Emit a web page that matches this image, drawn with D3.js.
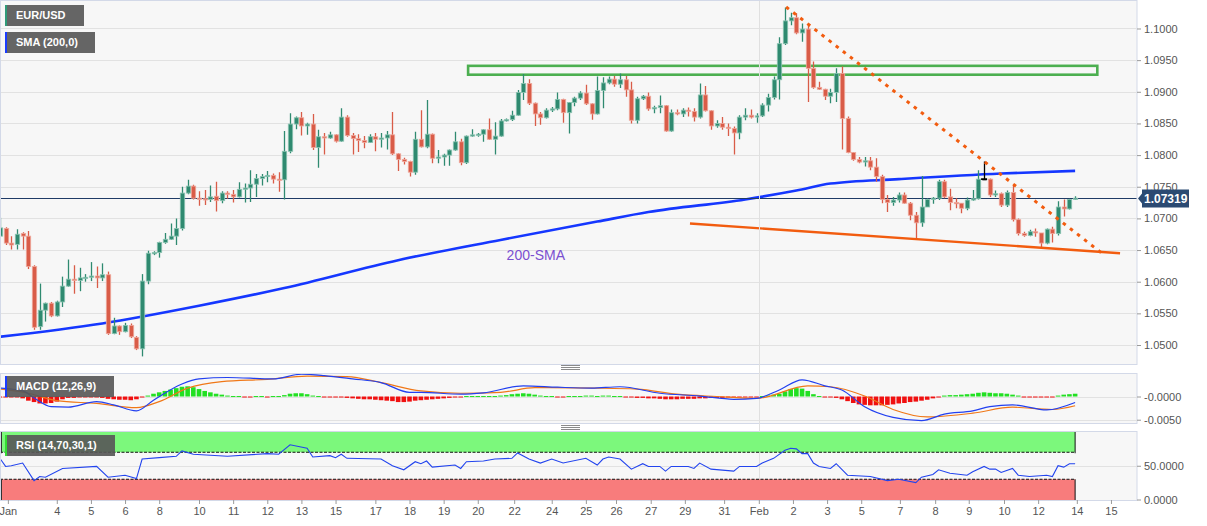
<!DOCTYPE html>
<html><head><meta charset="utf-8">
<script src="https://cdn.jsdelivr.net/npm/d3@7"></script>
<style>
body{margin:0;background:#fff;}
svg{display:block;font-family:"Liberation Sans",Arial,sans-serif;}
</style>
</head><body>
<svg id="c" width="1207" height="526"></svg>
<script>
// ---------- DATA (4H EUR/USD candles) ----------
const opens = [1.0672,1.0684,1.0661,1.0659,1.0676,1.0672,1.0624,1.0529,1.0555,1.0566,1.0546,1.0568,1.0593,1.0604,1.0602,1.0606,1.0607,1.0609,1.0606,1.0611,
1.0518,1.0530,1.0521,1.0531,1.0512,1.0494,1.0601,1.0645,1.0646,1.0662,1.0667,1.0672,1.0684,1.0740,1.0751,1.0732,1.0731,1.0730,1.0735,1.0728,
1.0740,1.0738,1.0734,1.0746,1.0748,1.0754,1.0763,1.0766,1.0768,1.0762,1.0761,1.0806,1.0849,1.0859,1.0846,1.0849,1.0812,1.0829,1.0827,1.0832,
1.0822,1.0860,1.0831,1.0826,1.0823,1.0820,1.0829,1.0825,1.0827,1.0832,1.0802,1.0793,1.0790,1.0773,1.0825,1.0813,1.0833,1.0795,1.0797,1.0800,
1.0808,1.0821,1.0788,1.0830,1.0832,1.0833,1.0840,1.0825,1.0830,1.0854,1.0856,1.0863,1.0899,1.0913,1.0882,1.0865,1.0859,1.0871,1.0873,1.0888,
1.0867,1.0883,1.0890,1.0898,1.0881,1.0865,1.0902,1.0914,1.0920,1.0912,1.0919,1.0903,1.0855,1.0889,1.0893,1.0873,1.0875,1.0878,1.0838,1.0867,
1.0865,1.0871,1.0869,1.0860,1.0895,1.0870,1.0846,1.0850,1.0844,1.0842,1.0835,1.0860,1.0863,1.0860,1.0862,1.0879,1.0891,1.0919,1.0976,1.1012,
1.1017,1.0993,1.0999,1.0937,1.0907,1.0904,1.0893,1.0899,1.0929,1.0858,1.0804,1.0793,1.0789,1.0791,1.0781,1.0766,1.0730,1.0725,1.0729,1.0737,
1.0724,1.0705,1.0693,1.0718,1.0730,1.0732,1.0758,1.0734,1.0725,1.0724,1.0716,1.0729,1.0731,1.0762,1.0762,1.0737,1.0739,1.0721,1.0741,1.0698,
1.0676,1.0673,1.0679,1.0677,1.0661,1.0683,1.0676,1.0718,1.0715,1.0730];
const highs = [1.0701,1.0686,1.0672,1.0683,1.0678,1.0680,1.0626,1.0597,1.0567,1.0568,1.0570,1.0608,1.0635,1.0626,1.0622,1.0612,1.0631,1.0624,1.0629,1.0616,
1.0543,1.0531,1.0535,1.0534,1.0514,1.0612,1.0649,1.0648,1.0663,1.0677,1.0692,1.0700,1.0750,1.0761,1.0753,1.0743,1.0745,1.0752,1.0758,1.0743,
1.0743,1.0745,1.0757,1.0755,1.0776,1.0770,1.0770,1.0775,1.0771,1.0773,1.0838,1.0866,1.0861,1.0868,1.0851,1.0865,1.0840,1.0835,1.0837,1.0833,
1.0874,1.0863,1.0835,1.0833,1.0830,1.0833,1.0835,1.0835,1.0838,1.0868,1.0803,1.0796,1.0791,1.0837,1.0871,1.0887,1.0834,1.0808,1.0802,1.0809,
1.0837,1.0826,1.0831,1.0841,1.0835,1.0841,1.0858,1.0852,1.0857,1.0858,1.0870,1.0903,1.0928,1.0920,1.0883,1.0868,1.0874,1.0876,1.0899,1.0889,
1.0884,1.0892,1.0901,1.0911,1.0882,1.0924,1.0923,1.0924,1.0925,1.0929,1.0925,1.0916,1.0892,1.0895,1.0899,1.0878,1.0894,1.0879,1.0872,1.0872,
1.0874,1.0875,1.0874,1.0913,1.0909,1.0871,1.0855,1.0860,1.0850,1.0845,1.0863,1.0874,1.0872,1.0866,1.0882,1.0897,1.0924,1.0986,1.1033,1.1025,
1.1024,1.1008,1.1005,1.0948,1.0916,1.0905,1.0905,1.0937,1.0940,1.0861,1.0805,1.0797,1.0797,1.0797,1.0795,1.0769,1.0737,1.0734,1.0741,1.0741,
1.0726,1.0710,1.0767,1.0732,1.0734,1.0761,1.0761,1.0747,1.0732,1.0724,1.0733,1.0745,1.0776,1.0790,1.0763,1.0744,1.0741,1.0744,1.0752,1.0700,
1.0679,1.0682,1.0684,1.0677,1.0684,1.0687,1.0727,1.0730,1.0731,1.0735];
const lows = [1.0671,1.0658,1.0651,1.0651,1.0651,1.0620,1.0524,1.0524,1.0537,1.0544,1.0545,1.0560,1.0592,1.0581,1.0585,1.0600,1.0601,1.0590,1.0601,1.0516,
1.0517,1.0516,1.0520,1.0511,1.0492,1.0482,1.0596,1.0642,1.0638,1.0660,1.0666,1.0658,1.0681,1.0738,1.0730,1.0720,1.0721,1.0726,1.0711,1.0724,
1.0731,1.0725,1.0733,1.0725,1.0726,1.0734,1.0752,1.0757,1.0755,1.0742,1.0730,1.0803,1.0841,1.0831,1.0832,1.0808,1.0780,1.0801,1.0826,1.0820,
1.0821,1.0829,1.0801,1.0805,1.0811,1.0819,1.0806,1.0812,1.0809,1.0800,1.0775,1.0785,1.0766,1.0769,1.0812,1.0811,1.0787,1.0787,1.0783,1.0783,
1.0807,1.0784,1.0786,1.0829,1.0829,1.0821,1.0824,1.0801,1.0829,1.0853,1.0854,1.0862,1.0887,1.0879,1.0846,1.0848,1.0858,1.0868,1.0871,1.0851,
1.0834,1.0877,1.0887,1.0879,1.0856,1.0864,1.0874,1.0912,1.0908,1.0906,1.0892,1.0850,1.0850,1.0887,1.0870,1.0866,1.0866,1.0837,1.0837,1.0863,
1.0860,1.0861,1.0853,1.0858,1.0869,1.0840,1.0843,1.0840,1.0830,1.0801,1.0825,1.0855,1.0858,1.0851,1.0860,1.0869,1.0888,1.0888,1.0974,1.1005,
1.0991,1.0979,1.0884,1.0905,1.0903,1.0887,1.0882,1.0884,1.0809,1.0803,1.0791,1.0787,1.0782,1.0776,1.0758,1.0724,1.0710,1.0720,1.0725,1.0723,
1.0697,1.0669,1.0687,1.0718,1.0723,1.0729,1.0732,1.0713,1.0716,1.0708,1.0713,1.0728,1.0730,1.0761,1.0734,1.0734,1.0718,1.0718,1.0695,1.0673,
1.0671,1.0672,1.0671,1.0654,1.0659,1.0662,1.0673,1.0703,1.0714,1.0729];
const closes = [1.0685,1.0661,1.0658,1.0675,1.0672,1.0624,1.0528,1.0555,1.0566,1.0546,1.0568,1.0593,1.0604,1.0602,1.0606,1.0607,1.0609,1.0606,1.0611,1.0518,
1.0530,1.0521,1.0531,1.0513,1.0494,1.0601,1.0645,1.0646,1.0662,1.0667,1.0672,1.0684,1.0740,1.0751,1.0732,1.0731,1.0730,1.0734,1.0728,1.0740,
1.0738,1.0734,1.0746,1.0748,1.0754,1.0763,1.0766,1.0768,1.0762,1.0761,1.0806,1.0849,1.0859,1.0846,1.0849,1.0812,1.0829,1.0827,1.0832,1.0822,
1.0860,1.0831,1.0826,1.0823,1.0820,1.0829,1.0825,1.0827,1.0832,1.0802,1.0793,1.0790,1.0773,1.0825,1.0813,1.0833,1.0795,1.0797,1.0800,1.0808,
1.0821,1.0788,1.0830,1.0832,1.0833,1.0840,1.0825,1.0830,1.0854,1.0856,1.0863,1.0899,1.0913,1.0882,1.0865,1.0859,1.0871,1.0873,1.0888,1.0867,
1.0883,1.0890,1.0898,1.0881,1.0865,1.0902,1.0914,1.0920,1.0912,1.0919,1.0903,1.0855,1.0889,1.0893,1.0873,1.0875,1.0878,1.0838,1.0867,1.0865,
1.0871,1.0869,1.0860,1.0895,1.0870,1.0846,1.0850,1.0844,1.0842,1.0835,1.0860,1.0863,1.0860,1.0862,1.0879,1.0891,1.0919,1.0976,1.1012,1.1017,
1.0993,1.0999,1.0937,1.0907,1.0904,1.0893,1.0899,1.0929,1.0858,1.0804,1.0793,1.0789,1.0791,1.0781,1.0766,1.0730,1.0725,1.0729,1.0737,1.0724,
1.0705,1.0693,1.0718,1.0730,1.0732,1.0758,1.0734,1.0725,1.0724,1.0716,1.0729,1.0731,1.0762,1.0762,1.0737,1.0739,1.0721,1.0741,1.0698,1.0676,
1.0673,1.0679,1.0677,1.0661,1.0683,1.0676,1.0718,1.0715,1.0730,1.07319];

// 200-period SMA, read at sample candles
const smaIdx = [0,18,35,50,70,88,105,114,131,140,146,158,176,189];
const smaVal = [1.0513,1.0534,1.0562,1.0590,1.0634,1.0666,1.0695,1.0710,1.0730,1.0744,1.0755,1.0762,1.0771,1.0775];

// MACD (12,26,9)
const macdHist = [-0.0002,-0.0002,-0.0001,-0.0002,
-0.0004,-0.0009,-0.0012,-0.0015,-0.0015,-0.0014,-0.0011,-0.0006,
-0.0003,-0.0003,-0.0002,-0.0002,-0.0001,-0.0001,
-0.0003,-0.0005,-0.0006,-0.0007,-0.0007,-0.0008,-0.0006,
-0.0002,
0.0002,0.0006,0.0009,0.0012,0.0015,0.0018,0.0021,0.0022,0.0020,0.0016,0.0012,0.0009,0.0006,0.0004,0.0002,
0.0001,0.0001,-0.0001,-0.0001,0.0001,0.0001,-0.0001,0.0001,
0.0001,0.0003,0.0006,0.0007,0.0007,0.0005,0.0002,
0.0001,-0.0001,-0.0001,-0.0001,
-0.0002,-0.0003,-0.0004,-0.0005,-0.0006,-0.0006,-0.0007,-0.0008,-0.0009,-0.0010,-0.0012,-0.0012,-0.0011,-0.0009,-0.0008,-0.0007,-0.0006,-0.0005,-0.0004,-0.0003,-0.0002,-0.0001,
0.0001,0.0001,0.0001,0.0001,0.0001,0.0001,
0.0002,0.0003,0.0005,0.0006,0.0007,0.0006,0.0004,0.0002,
0.0001,0.0001,-0.0001,-0.0001,0.0001,0.0001,0.0001,0.0002,0.0002,0.0001,0.0002,0.0002,0.0001,0.0001,-0.0001,
-0.0002,-0.0003,-0.0003,-0.0004,-0.0004,-0.0005,-0.0006,-0.0006,-0.0006,-0.0005,-0.0005,-0.0005,-0.0004,-0.0004,-0.0003,-0.0003,-0.0003,-0.0002,-0.0002,-0.0002,-0.0001,-0.0001,-0.0001,
0.0001,0.0002,0.0004,
0.0006,0.0011,0.0016,0.0018,0.0017,0.0012,0.0005,
0.0001,-0.0001,
-0.0002,-0.0003,-0.0006,-0.0010,-0.0014,-0.0017,-0.0018,-0.0019,-0.0019,-0.0019,-0.0018,-0.0017,-0.0015,-0.0014,-0.0012,-0.0011,-0.0009,-0.0007,-0.0004,-0.0002,
0.0002,0.0003,0.0003,0.0004,0.0005,0.0006,0.0008,0.0009,0.0008,0.0007,0.0007,0.0006,0.0004,0.0002,
-0.0001,-0.0001,-0.0002,-0.0002,-0.0001,-0.0001,
0.0002,0.0004,0.0005,0.0006];
const macdIdx = [0,4,6,9,12,17,20,24,27,32,35,40,48,53,57,62,67,72,74,81,85,92,98,104,109,116,123,129,133,137,141,145,148,152,157,162,166,171,174,178,184,189];
const macdVal = [0.0018,0.0012,-0.0003,-0.0022,-0.0023,-0.0011,-0.0018,-0.0031,-0.0008,0.0027,0.0038,0.0041,0.0038,0.0048,0.0045,0.0038,0.0030,0.0009,0.0009,0.0005,0.0008,0.0023,0.0020,0.0018,0.0021,0.0007,0.0001,-0.0006,-0.0004,0.0014,0.0036,0.0023,0.0014,-0.0022,-0.0045,-0.0052,-0.0038,-0.0031,-0.0022,-0.0018,-0.0029,-0.0013];
const signalIdx = [0,5,10,17,24,28,33,39,47,54,61,67,74,81,88,94,105,112,119,126,133,142,146,152,157,163,171,178,185,189];
const signalVal = [0.0016,0.0007,-0.0009,-0.0015,-0.0024,-0.0011,0.0018,0.0032,0.0037,0.0044,0.0043,0.0030,0.0012,0.0007,0.0009,0.0019,0.0018,0.0016,0.0005,0.0000,-0.0004,0.0023,0.0021,0.0001,-0.0028,-0.0044,-0.0036,-0.0023,-0.0028,-0.0020];

// RSI (14)
const rsiIdx = [0,1,2,4,6,7,8,11,17,19,22,24,25,28,31,32,34,40,47,49,51,54,55,58,59,60,61,67,69,71,73,74,75,76,80,81,82,85,87,90,91,93,95,97,99,103,105,106,107,109,111,113,114,116,117,118,121,122,123,125,129,130,133,134,136,138,139,140,141,142,143,144,146,147,149,153,156,158,161,162,164,165,167,170,171,173,174,175,176,178,179,181,184,185,186,187,188,189];
const rsiVal = [61,49,50,54,28,34,33,46,49,33,36,31,60,62,64,72,67,64,68,67,81,76,63,65,62,67,61,60,50,44,56,53,57,48,51,46,56,57,60,61,69,60,54,60,54,61,51,60,63,60,45,53,49,49,42,49,49,46,54,45,42,49,49,54,61,73,76,75,68,68,54,49,46,53,36,34,28,30,25,33,37,44,39,36,41,49,45,45,40,46,36,34,36,34,50,48,53,53];

// Annotations
const resistIdx = [138.2,193.7], resistVal = [1.1034,1.0645];   // dashed trend line
const supportIdx = [121.3,196.9], supportVal = [1.0692,1.0645]; // solid support line
const zoneIdx = [82.3,192.9], zoneVal = [1.0941,1.0927];        // green supply zone
const lastPrice = 1.07319;

// Axis ticks
const priceTicks = [1.05,1.055,1.06,1.065,1.07,1.075,1.08,1.085,1.09,1.095,1.10];
const macdTicks = [0,-0.005], macdTickLabels = ["-0.0000","-0.0050"];
const rsiTicks = [0,50], rsiTickLabels = ["0.0000","50.0000"];
const dateIdx = [1.4,10,16,22,28,35,41,47,53,59,66,72,78,84,90.4,97,103,108.3,114.4,120.4,127.3,133.4,139.4,145.4,151.4,158.2,164.4,170.3,176.5,182.5,189.3,195.3];
const dateLabels = ["Jan","4","5","6","8","10","11","12","13","15","17","18","19","20","22","24","25","26","27","29","31","Feb","2","3","5","7","8","9","10","12","14","15"];

// ---------- LAYOUT ----------
const PR = 1137; // right edge of plotting panels
const svg = d3.select('#c');
const x = d3.scaleLinear().domain([0,200]).range([-0.1,1137.7]);
const yP = d3.scaleLinear().domain([1.047,1.1045]).range([364,0]);
const yM = d3.scaleLinear().domain([-0.00571,0.00485]).range([423,374]);
const yR = d3.scaleLinear().domain([0,100]).range([499.5,432]);

const GREEN = '#2f8a70', RED = '#d95c48';

svg.append('rect').attr('width',1207).attr('height',526).attr('fill','#fff');

function panel(y0,y1,id){
  svg.append('rect').attr('x',0.5).attr('y',y0+0.5).attr('width',PR-0.5).attr('height',y1-y0)
    .attr('fill','#f7f7f7').attr('stroke','#d3d9e8');
  svg.append('clipPath').attr('id',id).append('rect').attr('x',1).attr('y',y0+1).attr('width',PR-1.5).attr('height',y1-y0-1);
}
panel(0,364,'cm');
panel(373,423,'cmacd');
panel(431,500,'crsi');

// grid lines
const gMain = svg.append('g').attr('clip-path','url(#cm)');
gMain.selectAll('line.g').data(priceTicks).join('line')
  .attr('x1',0).attr('x2',PR).attr('y1',d=>Math.round(yP(d))+0.5).attr('y2',d=>Math.round(yP(d))+0.5)
  .attr('stroke','#e2e2e2');
svg.append('g').selectAll('line').data(macdTicks).join('line')
  .attr('x1',1).attr('x2',PR).attr('y1',d=>Math.round(yM(d))+0.5).attr('y2',d=>Math.round(yM(d))+0.5).attr('stroke','#e2e2e2');
svg.append('line').attr('x1',1).attr('x2',PR).attr('y1',Math.round(yR(50))+0.5).attr('y2',Math.round(yR(50))+0.5).attr('stroke','#e2e2e2');

// month separator (Feb)
const febX = Math.round(x(dateIdx[dateLabels.indexOf('Feb')]))+0.5;
svg.append('line').attr('x1',febX).attr('x2',febX).attr('y1',1).attr('y2',500).attr('stroke','#e0e0e0');

// green zone rectangle
gMain.append('rect').attr('x',x(zoneIdx[0])).attr('y',yP(zoneVal[0]))
  .attr('width',x(zoneIdx[1])-x(zoneIdx[0])).attr('height',yP(zoneVal[1])-yP(zoneVal[0]))
  .attr('fill','none').attr('stroke','#4caf50').attr('stroke-width',2.6);

// SMA 200
const smaPts = smaIdx.map((d,i)=>[d,smaVal[i]]);
gMain.append('path').datum(smaPts)
  .attr('d',d3.line().x(d=>x(d[0])).y(d=>yP(d[1])).curve(d3.curveMonotoneX))
  .attr('fill','none').attr('stroke','#1537ff').attr('stroke-width',2.6);

// price line
gMain.append('line').attr('x1',0).attr('x2',PR).attr('y1',Math.round(yP(lastPrice))+0.5).attr('y2',Math.round(yP(lastPrice))+0.5)
  .attr('stroke','#1f3b66').attr('stroke-width',1.2);

// candles
const idx = d3.range(opens.length);
const cg = gMain.append('g');
cg.selectAll('line.w').data(idx).join('line')
  .attr('x1',i=>Math.round(x(i))+0.5).attr('x2',i=>Math.round(x(i))+0.5)
  .attr('y1',i=>yP(highs[i])).attr('y2',i=>yP(lows[i]))
  .attr('stroke',i=>closes[i]>opens[i]?GREEN:closes[i]<opens[i]?RED:'#000').attr('stroke-width',1.3);
cg.selectAll('rect.b').data(idx).join('rect')
  .attr('x',i=>Math.round(x(i))+0.5-2.2).attr('width',4.4)
  .attr('y',i=>yP(Math.max(opens[i],closes[i])))
  .attr('height',i=>Math.max(1.2,Math.abs(yP(opens[i])-yP(closes[i]))))
  .attr('fill',i=>closes[i]>opens[i]?GREEN:closes[i]<opens[i]?RED:'#000')
  .attr('stroke',i=>closes[i]>opens[i]?'#8cc4b2':closes[i]<opens[i]?'#efa89c':'none').attr('stroke-width',0.8);
// doji tick
cg.selectAll('line.d').data(idx.filter(i=>opens[i]===closes[i])).join('line')
  .attr('x1',i=>x(i)-3).attr('x2',i=>x(i)+3).attr('y1',i=>yP(closes[i])).attr('y2',i=>yP(closes[i]))
  .attr('stroke','#000').attr('stroke-width',1.6);

// trend lines
gMain.append('line').attr('x1',x(supportIdx[0])).attr('y1',yP(supportVal[0])).attr('x2',x(supportIdx[1])).attr('y2',yP(supportVal[1]))
  .attr('stroke','#f25c0f').attr('stroke-width',2.4);
gMain.append('line').attr('x1',x(resistIdx[0])).attr('y1',yP(resistVal[0])).attr('x2',x(resistIdx[1])).attr('y2',yP(resistVal[1]))
  .attr('stroke','#f25c0f').attr('stroke-width',3).attr('stroke-dasharray','3.5,5.5');

// 200-SMA label
gMain.append('text').attr('x',x(94.2)).attr('y',yP(1.0642)).attr('dy','0.35em').attr('text-anchor','middle')
  .attr('fill','#7b4fd0').attr('font-size',14).text('200-SMA');

// ---------- MACD ----------
const gM = svg.append('g').attr('clip-path','url(#cmacd)');
gM.selectAll('rect').data(idx).join('rect')
  .attr('x',i=>x(i)-2.3).attr('width',4.6)
  .attr('y',i=>macdHist[i]>=0?yM(macdHist[i]):yM(0))
  .attr('height',i=>Math.max(1,Math.abs(yM(macdHist[i])-yM(0))))
  .attr('fill',i=>macdHist[i]>=0?'#22e022':'#f01010');
const lnM = d3.line().x(d=>x(d[0])).y(d=>yM(d[1])).curve(d3.curveMonotoneX);
gM.append('path').datum(signalIdx.map((d,i)=>[d,signalVal[i]])).attr('d',lnM).attr('fill','none').attr('stroke','#f07818').attr('stroke-width',1.2);
gM.append('path').datum(macdIdx.map((d,i)=>[d,macdVal[i]])).attr('d',lnM).attr('fill','none').attr('stroke','#2240f0').attr('stroke-width',1.2);

// ---------- RSI ----------
const gR = svg.append('g').attr('clip-path','url(#crsi)');
const zx1 = x(opens.length-1);
gR.append('rect').attr('x',0).attr('width',zx1).attr('y',yR(100)).attr('height',yR(70)-yR(100)).attr('fill','#7cf87c');
gR.append('rect').attr('x',0).attr('width',zx1).attr('y',yR(30)).attr('height',yR(0)-yR(30)+1).attr('fill','#f87c7c');
[70,30].forEach(v=>gR.append('line').attr('x1',0).attr('x2',zx1).attr('y1',yR(v)).attr('y2',yR(v))
  .attr('stroke','#111').attr('stroke-dasharray','3,1.5'));
[[100,70],[30,0]].forEach(r=>{
  gR.append('line').attr('x1',zx1).attr('x2',zx1).attr('y1',yR(r[0])).attr('y2',yR(r[1])+1).attr('stroke','#111');
  gR.append('line').attr('x1',1.5).attr('x2',1.5).attr('y1',yR(r[0])).attr('y2',yR(r[1])+1).attr('stroke','#333');
});
gR.append('path').datum(rsiIdx.map((d,i)=>[d,rsiVal[i]]))
  .attr('d',d3.line().x(d=>x(d[0])).y(d=>yR(d[1])))
  .attr('fill','none').attr('stroke','#2244ee').attr('stroke-width',1.1);

// ---------- AXES ----------
function styleAxis(g){
  g.select('.domain').remove();
  g.selectAll('line').attr('stroke','#9a9a9a');
  g.selectAll('text').attr('fill','#555').attr('font-size',11).attr('font-family','"Liberation Sans",Arial,sans-serif');
}
svg.append('g').attr('transform',`translate(${PR},0)`)
  .call(d3.axisRight(yP).tickValues(priceTicks).tickFormat(d3.format('.4f')).tickSize(4).tickPadding(3)).call(styleAxis);
svg.append('g').attr('transform',`translate(${PR},0)`)
  .call(d3.axisRight(yM).tickValues(macdTicks).tickFormat((d,i)=>macdTickLabels[i]).tickSize(4).tickPadding(3)).call(styleAxis);
svg.append('g').attr('transform',`translate(${PR},0)`)
  .call(d3.axisRight(yR).tickValues(rsiTicks).tickFormat((d,i)=>rsiTickLabels[i]).tickSize(4).tickPadding(3)).call(styleAxis);
svg.append('g').attr('transform','translate(0,500)')
  .call(d3.axisBottom(x).tickValues(dateIdx).tickFormat((d,i)=>dateLabels[i]).tickSize(4).tickPadding(3)).call(styleAxis);

// last price tag
const ly = Math.round(yP(lastPrice))+0.5;
svg.append('path').attr('d',`M${PR+1},${ly} L${PR+5},${ly-5} L${PR+5},${ly-9} L${PR+52},${ly-9} L${PR+52},${ly+9} L${PR+5},${ly+9} L${PR+5},${ly+5} Z`)
  .attr('fill','#2b4a72');
svg.append('text').attr('x',PR+7).attr('y',ly).attr('dy','0.36em').attr('fill','#fff').attr('font-weight','bold')
  .attr('font-size',12).text(d3.format('.5f')(lastPrice));

// panel resize handles
[367,427].forEach(yy=>{
  [-2,0,2].forEach(o=>svg.append('line').attr('x1',561).attr('x2',580).attr('y1',yy+o+0.5).attr('y2',yy+o+0.5).attr('stroke','#8a8a8a'));
});

// legend boxes
function legend(y,txt,w,col){
  svg.append('rect').attr('x',5).attr('y',y).attr('width',w).attr('height',21).attr('fill','rgba(88,88,88,0.92)');
  svg.append('rect').attr('x',5).attr('y',y).attr('width',2).attr('height',21).attr('fill',col);
  svg.append('text').attr('x',16).attr('y',y+10.5).attr('dy','0.36em').attr('fill','#fff').attr('font-weight','bold').attr('font-size',11).text(txt);
}
legend(5,'EUR/USD',79,'#2f9a78');
legend(32,'SMA (200,0)',90,'#1a3cff');
legend(376,'MACD (12,26,9)',109,'#1a3cff');
legend(435,'RSI (14,70,30,1)',110,'#33dd33');
</script>
</body></html>
